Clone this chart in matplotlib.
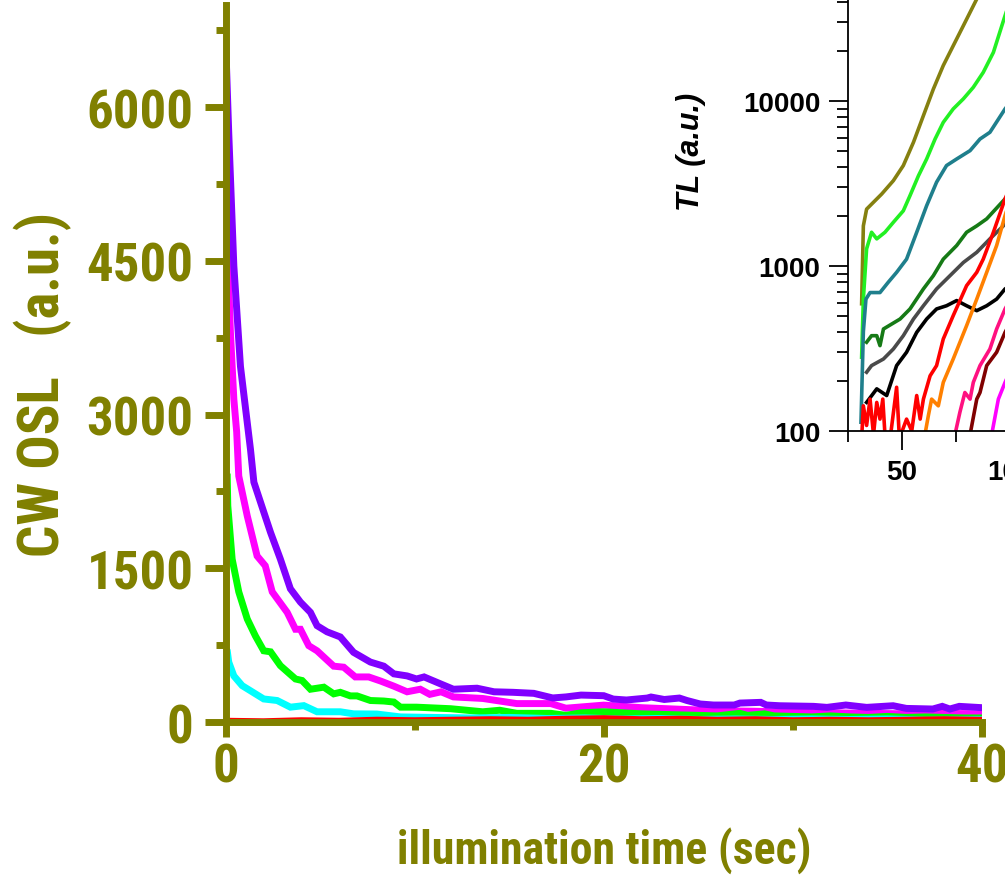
import os
import numpy as np
import matplotlib
matplotlib.use("Agg")
import matplotlib.pyplot as plt
from matplotlib import font_manager as fm
from matplotlib.ticker import MultipleLocator, FixedLocator, NullFormatter, LogLocator

OLIVE = "#808000"

# ---- main plot: CW-OSL decay curves (time in s, signal in a.u.) ----
t_purple = [0.0, 0.17, 0.44, 0.79, 1.32, 1.5, 2.02, 2.38, 2.9, 3.43, 3.96, 4.49, 4.84, 5.37,
            6.07, 6.77, 7.66, 8.37, 8.9, 9.6, 10.1, 10.5, 11.4, 12.05, 13.3, 14.2, 15.2, 16.3,
            17.3, 18.0, 18.8, 20.0, 20.5, 21.2, 22.3, 22.5, 23.2, 24.0, 24.4, 25.1, 25.8, 26.9,
            27.2, 28.3, 28.6, 29.3, 31.1, 31.8, 32.8, 33.9, 35.3, 36.0, 37.4, 37.9, 38.3, 38.8, 40.0]
y_purple = [6680, 5750, 4450, 3470, 2660, 2340, 2050, 1850, 1590, 1300, 1170, 1070, 940, 880,
            830, 680, 585, 545, 470, 450, 420, 440, 370, 320, 330, 295, 290, 280,
            235, 245, 263, 257, 224, 215, 234, 244, 220, 234, 210, 176, 166, 166,
            185, 192, 166, 159, 153, 143, 166, 143, 159, 133, 127, 153, 127, 153, 140]

t_magenta = [0.09, 0.26, 0.44, 0.59, 0.7, 1.15, 1.67, 2.1, 2.47, 3.26, 3.7, 3.96, 4.4, 4.84,
             5.72, 6.25, 6.86, 7.57, 8.2, 8.9, 9.6, 10.3, 10.8, 11.4, 12.05, 13.6, 15.4, 17.2,
             18.0, 20.0, 22.0, 24.0, 26.0, 28.0, 30.0, 32.0, 34.0, 36.0, 38.0, 40.0]
y_magenta = [4680, 3800, 3150, 2830, 2400, 2010, 1620, 1525, 1270, 1070, 905, 905, 745, 695,
             545, 535, 440, 440, 400, 350, 295, 320, 270, 295, 245, 230, 180, 180,
             135, 165, 140, 125, 110, 105, 95, 90, 85, 80, 85, 80]

t_green = [0.09, 0.12, 0.35, 0.7, 1.15, 1.58, 2.02, 2.38, 2.9, 3.7, 4.05, 4.49, 5.2, 5.72,
           6.07, 6.6, 6.95, 7.66, 8.37, 8.9, 9.25, 10.1, 11.9, 13.6, 14.5, 15.4, 17.2, 18.0,
           18.8, 20.0, 21.0, 22.0, 23.0, 24.0, 25.0, 26.0, 27.2, 27.6, 28.5, 29.0, 30.0, 31.0,
           32.0, 33.0, 34.0, 35.0, 36.0, 37.0, 38.0, 39.0, 40.0]
y_green = [2390, 2110, 1590, 1270, 1005, 840, 695, 685, 550, 420, 405, 320, 340, 275,
           290, 255, 255, 210, 205, 195, 145, 145, 130, 100, 115, 85, 85, 65,
           90, 100, 90, 80, 75, 70, 65, 60, 85, 65, 80, 60, 55, 50,
           60, 50, 45, 55, 45, 50, 45, 40, 40]

t_cyan = [0.0, 0.09, 0.17, 0.44, 0.88, 1.32, 2.02, 2.73, 3.43, 4.14, 4.84, 6.07, 6.77, 8.0,
          9.25, 11.0, 13.0, 15.0, 17.0, 19.0, 21.0, 23.0, 25.0, 27.0, 29.0, 31.0, 33.0,
          35.0, 37.0, 39.0, 40.0]
y_cyan = [720, 695, 585, 450, 355, 305, 225, 210, 145, 160, 100, 100, 80, 78,
          50, 45, 40, 45, 35, 40, 30, 35, 25, 30, 25, 30, 25, 30, 20, 25, 25]

t_red = [0, 2, 4, 6, 8, 10, 12, 14, 16, 18, 20, 22, 24, 26, 28, 30, 32, 34, 36, 38, 40]
y_red = [20, 15, 25, 20, 30, 25, 30, 35, 30, 40, 45, 35, 40, 30, 35, 25, 30, 25, 30, 35, 30]

# ---- inset: TL glow curves (temperature in C, TL in a.u.) ----
T_olive = [31.3, 32.1, 33.6, 40.6, 46.0, 50.6, 55.3, 59.9, 64.5, 69.1, 73.7, 78.4, 84.6, 86.0]
L_olive = [590, 1750, 2210, 2730, 3290, 4060, 5620, 8150, 11800, 16400, 21600, 28600, 41500, 46000]

T_lime = [31.3, 32.1, 33.6, 35.9, 38.3, 42.1, 46.0, 50.6, 53.7, 57.6, 61.4, 65.3, 69.1, 73.7,
          78.4, 83.0, 87.6, 92.3, 97.7, 99.0]
L_lime = [280, 630, 1270, 1600, 1460, 1600, 1840, 2160, 2670, 3520, 4450, 5880, 7420, 8950,
          10300, 12100, 14900, 19700, 32900, 37000]

T_teal = [31.0, 32.1, 33.3, 35.2, 39.8, 43.6, 47.5, 52.1, 56.8, 61.4, 66.0, 70.6, 75.3, 81.5,
          86.1, 90.7, 97.7, 100.0]
L_teal = [113, 400, 630, 690, 690, 796, 915, 1100, 1600, 2320, 3220, 4060, 4450, 5000,
          5880, 6460, 8950, 9800]

T_dgreen = [33.6, 35.9, 38.3, 39.8, 41.4, 49.1, 53.7, 59.9, 64.5, 69.1, 75.3, 79.9, 84.6,
            89.2, 97.7, 100.0]
L_dgreen = [345, 378, 378, 329, 415, 477, 549, 726, 873, 1100, 1330, 1600, 1750, 1930,
            2550, 2700]

T_gray = [33.6, 35.9, 41.4, 46.0, 50.6, 55.3, 59.9, 66.0, 72.2, 78.4, 84.6, 90.7, 96.9, 100.0]
L_gray = [227, 249, 273, 314, 378, 477, 574, 726, 873, 1050, 1210, 1460, 1750, 1900]

T_black = [33.6, 38.3, 42.9, 47.5, 52.1, 56.8, 61.4, 66.0, 70.6, 75.3, 79.9, 84.6, 89.2,
           93.8, 97.7, 100.0]
L_black = [149, 180, 164, 249, 300, 396, 477, 549, 574, 617, 574, 536, 574, 630, 726, 760]

T_red = [31.3, 32.1, 33.6, 35.2, 36.8, 38.3, 39.8, 41.1, 42.1, 44.5, 47.5, 48.8, 52.1, 54.5,
         56.8, 58.4, 59.9, 63.0, 66.0, 69.1, 73.7, 79.9, 84.6, 87.6, 92.3, 97.7, 100.0]
L_red = [90, 142, 108, 156, 95, 149, 118, 156, 95, 90, 184, 90, 118, 100,
         164, 118, 156, 216, 249, 361, 500, 760, 915, 1100, 1600, 2550, 3000]

T_orange = [60.6, 62.2, 63.7, 66.8, 69.1, 73.7, 79.9, 84.6, 89.2, 93.8, 97.7, 100.0]
L_orange = [95, 124, 156, 142, 197, 273, 435, 630, 915, 1330, 2020, 2500]

T_pink = [74.5, 76.8, 79.1, 81.5, 83.0, 86.1, 90.7, 93.8, 97.7, 100.0]
L_pink = [95, 130, 171, 156, 197, 249, 314, 415, 549, 620]

T_maroon = [81.5, 84.6, 86.1, 89.2, 93.8, 97.7, 100.0]
L_maroon = [95, 156, 171, 249, 300, 396, 450]

T_mag = [91.5, 94.6, 97.7, 100.0]
L_mag = [95, 156, 197, 230]


def narrow_bold_font():
    # look for a condensed bold face; otherwise fall back to Liberation Sans Bold
    wanted = ["LiberationSansNarrow-Bold.", "ArialNarrow-Bold", "arialnb",
              "NotoSans-CondensedBold.", "RobotoCondensed-Bold", "Roboto-CondensedBold",
              "OpenSans-CondensedBold", "OpenSansCondensed-Bold"]
    files = set(fm.findSystemFonts()) | {f.fname for f in fm.fontManager.ttflist}
    for w in wanted:
        for f in sorted(files):
            if os.path.basename(f).startswith(w):
                return fm.FontProperties(fname=f), True
    return fm.FontProperties(family="Liberation Sans", weight="bold"), False


base_fp, is_narrow = narrow_bold_font()
if is_narrow:
    tick_size, xlab_size, ylab_size, ylab_text = 38, 33, 41, "CW OSL   (a.u.)"
else:
    tick_size, xlab_size, ylab_size, ylab_text = 33, 28, 35, "CW OSL  (a.u.)"


def fp(size):
    p = base_fp.copy()
    p.set_size(size)
    return p


fig = plt.figure(figsize=(10.05, 8.78), dpi=100)
ax = fig.add_axes([0.2244, 0.1765, 0.7527, 0.8172])

ax.plot(t_magenta, y_magenta, color="#ff00ff", lw=5, solid_joinstyle="miter")
ax.plot(t_purple, y_purple, color="#8000ff", lw=5, solid_joinstyle="miter")
ax.plot(t_green, y_green, color="#00ff00", lw=5, solid_joinstyle="miter")
ax.plot(t_cyan, y_cyan, color="#00ffff", lw=5, solid_joinstyle="miter")
ax.plot(t_red, y_red, color="#ff0000", lw=3.2)

ax.set_xlim(0, 40)
ax.set_ylim(0, 7000)
for s in ["top", "right"]:
    ax.spines[s].set_visible(False)
for s in ["left", "bottom"]:
    ax.spines[s].set_color(OLIVE)
    ax.spines[s].set_linewidth(5)

ax.xaxis.set_major_locator(MultipleLocator(20))
ax.xaxis.set_minor_locator(MultipleLocator(10))
ax.yaxis.set_major_locator(FixedLocator([0, 1500, 3000, 4500, 6000]))
ax.yaxis.set_minor_locator(FixedLocator([750, 2250, 3750, 5250, 6750]))
ax.tick_params(axis="y", which="major", length=15, width=5, color=OLIVE, pad=8)
ax.tick_params(axis="y", which="minor", length=7.5, width=5, color=OLIVE)
ax.tick_params(axis="x", which="major", length=11, width=5, color=OLIVE, pad=3)
ax.tick_params(axis="x", which="minor", length=6, width=5, color=OLIVE)
for lab in ax.get_xticklabels() + ax.get_yticklabels():
    lab.set_fontproperties(fp(tick_size))
    lab.set_color(OLIVE)

ax.set_xlabel("illumination time (sec)", fontproperties=fp(xlab_size), color=OLIVE, va="center")
ax.xaxis.set_label_coords(0.5, -0.177)
ax.set_ylabel(ylab_text, fontproperties=fp(ylab_size), color=OLIVE, va="center")
ax.yaxis.set_label_coords(-0.242, 0.472)

# ---- inset ----
REG = ["Liberation Sans", "DejaVu Sans"]
ins = fig.add_axes([0.8438, 0.508, 0.4836, 0.5638])
ins.set_facecolor("white")
lw_in = 2.6
ins.plot(T_olive, L_olive, color="#858010", lw=lw_in)
ins.plot(T_lime, L_lime, color="#22f022", lw=lw_in)
ins.plot(T_teal, L_teal, color="#1f7f8c", lw=lw_in)
ins.plot(T_dgreen, L_dgreen, color="#167a16", lw=lw_in)
ins.plot(T_gray, L_gray, color="#4a4a4a", lw=lw_in)
ins.plot(T_black, L_black, color="#000000", lw=lw_in)
ins.plot(T_red, L_red, color="#ff0000", lw=lw_in)
ins.plot(T_orange, L_orange, color="#ff8000", lw=lw_in)
ins.plot(T_pink, L_pink, color="#ff1080", lw=lw_in)
ins.plot(T_maroon, L_maroon, color="#800000", lw=lw_in)
ins.plot(T_mag, L_mag, color="#ff00ff", lw=lw_in)

ins.set_xlim(25, 250)
ins.set_yscale("log")
ins.set_ylim(100, 1e5)
for s in ["top", "right"]:
    ins.spines[s].set_visible(False)
for s in ["left", "bottom"]:
    ins.spines[s].set_linewidth(1.3)
ins.xaxis.set_major_locator(MultipleLocator(50))
ins.xaxis.set_minor_locator(MultipleLocator(25))
ins.yaxis.set_major_locator(FixedLocator([100, 1000, 10000]))
ins.yaxis.set_major_formatter(plt.FuncFormatter(lambda v, p: f"{int(v)}"))
ins.yaxis.set_minor_locator(LogLocator(base=10, subs=np.arange(2, 10)))
ins.yaxis.set_minor_formatter(NullFormatter())
ins.tick_params(which="major", length=14, width=1.3, pad=6)
ins.tick_params(which="minor", length=8, width=1.3)
for lab in ins.get_xticklabels() + ins.get_yticklabels():
    lab.set_family(REG)
    lab.set_fontweight("bold")
    lab.set_fontsize(20)
ins.set_ylabel("TL (a.u.)", family=REG, fontweight="bold", style="italic",
               fontsize=22, va="center")
ins.yaxis.set_label_coords(-0.323, 0.566)

fig.savefig("out.png", dpi=100)
